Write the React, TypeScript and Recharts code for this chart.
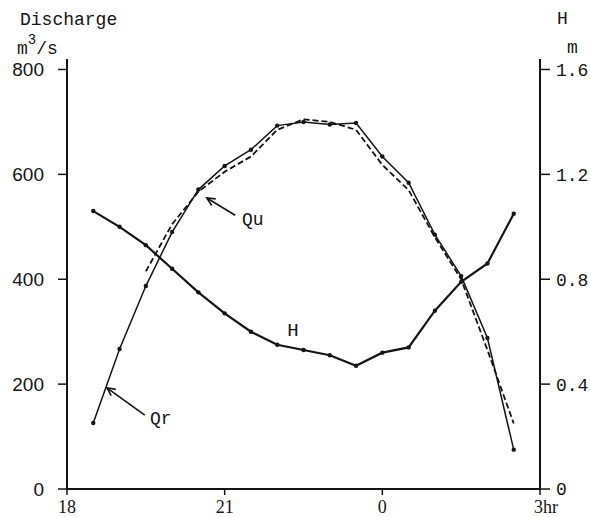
import { CSSProperties } from 'react'
import { ComposedChart, Line, ReferenceDot, ReferenceLine, XAxis, YAxis } from 'recharts'

// hours after midnight of day 1 (24 = 0h, 27 = 3h)
const hours = [18.5, 19, 19.5, 20, 20.5, 21, 21.5, 22, 22.5, 23, 23.5, 24, 24.5, 25, 25.5, 26, 26.5]
// Qr, discharge m3/s
const qr = [126, 267, 387, 490, 571, 616, 647, 693, 700, 695, 698, 634, 584, 485, 406, 288, 75]
// Qu, discharge m3/s (dashed)
const qu = [null, null, 415, 505, 567, 605, 634, 685, 705, 700, 685, 618, 570, 480, 400, 265, 125]
// H, stage m
const stage = [1.06, 1.0, 0.93, 0.84, 0.75, 0.67, 0.6, 0.55, 0.53, 0.51, 0.47, 0.52, 0.54, 0.68, 0.79, 0.86, 1.05]

const xTicks = [18, 21, 24, 27]
const xTickLabels = ['18', '21', '0', '3']
const qTicks = [0, 200, 400, 600, 800]
const hTicks = [0, 0.4, 0.8, 1.2, 1.6]

const data = hours.map((t, i) => ({t, qr: qr[i], qu: qu[i], h: stage[i]}))

const INK = '#141414'
const MONO = '"Liberation Mono", "DejaVu Sans Mono", monospace'

const sTitle: CSSProperties = {
  position: 'absolute',
  fontFamily: MONO,
  fontSize: 18,
  color: INK,
  lineHeight: '17px',
  height: 17,
  whiteSpace: 'nowrap',
}

const XTick = (props: any) => {
  const {x, y, payload} = props
  const idx = xTicks.indexOf(payload.value)
  const last = idx === xTicks.length - 1
  return (
    <text x={last ? x - 6 : x} y={y} dy="0.71em" textAnchor={last ? 'start' : 'middle'}
          fontFamily='"Liberation Serif", serif' fontSize={18} fill={INK}>
      {xTickLabels[idx]}{last ? 'hr' : ''}
    </text>
  )
}

const Leader = (props: any) => {
  const {x1, y1, x2, y2} = props
  const a = Math.atan2(y2 - y1, x2 - x1)
  const len = 9
  const p1 = [x1 + len * Math.cos(a - 0.45), y1 + len * Math.sin(a - 0.45)]
  const p2 = [x1 + len * Math.cos(a + 0.45), y1 + len * Math.sin(a + 0.45)]
  return (
    <g stroke={INK} strokeWidth={1.6} fill="none">
      <line x1={x1} y1={y1} x2={x2} y2={y2}/>
      <polyline points={`${p1[0]},${p1[1]} ${x1},${y1} ${p2[0]},${p2[1]}`}/>
    </g>
  )
}

const tag = (text: string, size = 18) => (props: any) => (
  <text x={props.cx} y={props.cy} dominantBaseline="central" fontFamily={MONO}
        fontSize={size} fill={INK}>{text}</text>
)

export default function App() {
  return (
    <div style={{position: 'absolute', left: 0, top: 0, width: 591, height: 517, background: '#fff'}}>
      <ComposedChart width={591} height={517} data={data} margin={{top: 59, right: 0, bottom: 0, left: 7}}>
        <XAxis dataKey="t" type="number" domain={[18, 27]} ticks={xTicks} tick={<XTick/>}
               tickSize={6} tickMargin={5} height={28} interval={0}
               axisLine={{stroke: INK, strokeWidth: 2}} tickLine={{stroke: INK, strokeWidth: 1.5}}/>
        <YAxis yAxisId="left" domain={[0, 820]} ticks={qTicks} width={60} tickSize={9} tickMargin={14}
               allowDataOverflow interval={0}
               tick={{fontFamily: '"Liberation Sans", sans-serif', fontSize: 19, fill: INK}}
               axisLine={{stroke: INK, strokeWidth: 2}} tickLine={{stroke: INK, strokeWidth: 1.5}}/>
        <YAxis yAxisId="right" orientation="right" domain={[0, 1.64]} ticks={hTicks} width={51}
               tickSize={10} tickMargin={6} allowDataOverflow interval={0}
               tickFormatter={(v: number) => (v === 0 ? '0' : v.toFixed(1))}
               tick={{fontFamily: MONO, fontSize: 18, fill: INK}}
               axisLine={{stroke: INK, strokeWidth: 2}} tickLine={{stroke: INK, strokeWidth: 1.5}}/>
        <Line yAxisId="left" dataKey="qu" stroke={INK} strokeWidth={1.8} strokeDasharray="6 3"
              dot={false} connectNulls={false} isAnimationActive={false}/>
        <Line yAxisId="left" dataKey="qr" stroke={INK} strokeWidth={1.5}
              dot={{r: 2.2, fill: INK, stroke: 'none'}} isAnimationActive={false}/>
        <Line yAxisId="right" dataKey="h" stroke={INK} strokeWidth={2.2}
              dot={{r: 2.2, fill: INK, stroke: 'none'}} isAnimationActive={false}/>
        <ReferenceLine yAxisId="left" segment={[{x: 20.66, y: 555}, {x: 21.2, y: 522}]} shape={<Leader/>}/>
        <ReferenceLine yAxisId="left" segment={[{x: 18.76, y: 193}, {x: 19.48, y: 141}]} shape={<Leader/>}/>
        <ReferenceDot yAxisId="left" x={21.33} y={513} r={0} shape={tag('Qu')}/>
        <ReferenceDot yAxisId="left" x={19.58} y={133} r={0} shape={tag('Qr')}/>
        <ReferenceDot yAxisId="left" x={22.19} y={301} r={0} shape={tag('H', 19)}/>
      </ComposedChart>
      <div style={{...sTitle, left: 20, top: 12}}>Discharge</div>
      <div style={{...sTitle, left: 17, top: 41}}>
        m<span style={{fontSize: 14, position: 'relative', top: -10}}>3</span>/s
      </div>
      <div style={{...sTitle, left: 557, top: 11}}>H</div>
      <div style={{...sTitle, left: 567, top: 40}}>m</div>
    </div>
  )
}
